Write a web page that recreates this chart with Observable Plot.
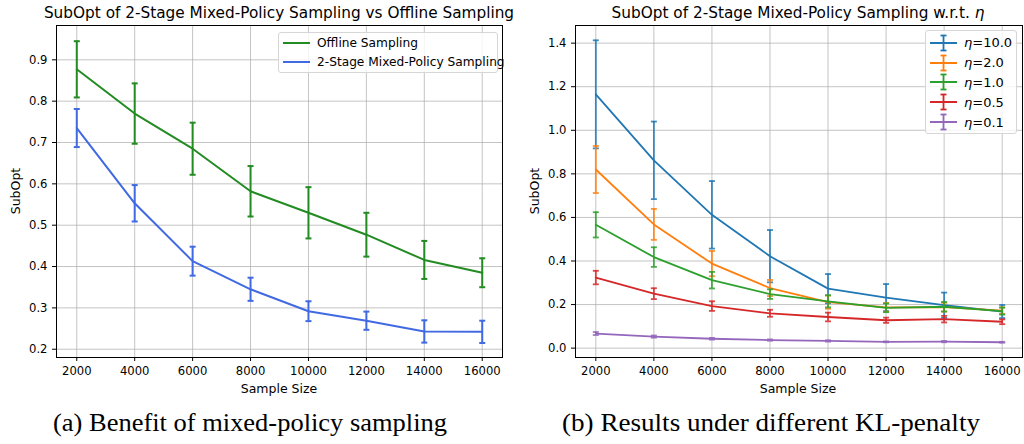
<!DOCTYPE html>
<html><head><meta charset="utf-8">
<script src="https://cdn.jsdelivr.net/npm/d3@7"></script>
<script src="https://cdn.jsdelivr.net/npm/@observablehq/plot@0.6"></script>
<style>
body{margin:0;background:#fff;}
#root{position:relative;width:1024px;height:444px;overflow:hidden;font-family:"DejaVu Sans",sans-serif;color:#000;background:#fff;}
.abs{position:absolute;white-space:nowrap;}
.title{font-size:15.3px;transform:translate(-50%,-50%);}
.xlabel{font-size:12.5px;transform:translate(-50%,-50%);}
.ylabel{font-size:12.5px;transform:translate(-50%,-50%) rotate(-90deg);}
.caption{font-family:"Liberation Serif",serif;font-size:25px;}
.legend{background:rgba(255,255,255,0.8);border:1px solid #d6d6d6;border-radius:3px;font-size:12px;box-sizing:border-box;}
.legend .row{position:absolute;left:0;display:flex;align-items:center;}
.legend svg{display:block;}
.plot{position:absolute;top:0;}
</style></head><body><div id="root"></div>
<script>
// ---------- data ----------
const sampleSizes = [2000, 4000, 6000, 8000, 10000, 12000, 14000, 16000];

const offlineMean = [0.877, 0.770, 0.685, 0.582, 0.530, 0.477, 0.416, 0.385];
const offlineErr  = [0.068, 0.073, 0.063, 0.061, 0.062, 0.053, 0.046, 0.035];
const mixedMean   = [0.735, 0.553, 0.413, 0.345, 0.292, 0.269, 0.243, 0.242];
const mixedErr    = [0.046, 0.044, 0.035, 0.028, 0.024, 0.022, 0.027, 0.027];

const etaLabels = ["10.0", "2.0", "1.0", "0.5", "0.1"];
const eta10Mean = [1.165, 0.862, 0.612, 0.422, 0.273, 0.232, 0.197, 0.168];
const eta10Err  = [0.248, 0.178, 0.155, 0.120, 0.067, 0.062, 0.058, 0.030];
const eta2Mean  = [0.820, 0.568, 0.388, 0.276, 0.211, 0.187, 0.188, 0.172];
const eta2Err   = [0.108, 0.071, 0.058, 0.037, 0.030, 0.020, 0.020, 0.015];
const eta1Mean  = [0.566, 0.418, 0.312, 0.248, 0.215, 0.185, 0.190, 0.170];
const eta1Err   = [0.058, 0.045, 0.038, 0.022, 0.028, 0.020, 0.022, 0.016];
const eta05Mean = [0.324, 0.250, 0.193, 0.160, 0.143, 0.128, 0.133, 0.121];
const eta05Err  = [0.031, 0.025, 0.022, 0.016, 0.020, 0.012, 0.015, 0.011];
const eta01Mean = [0.067, 0.053, 0.043, 0.037, 0.033, 0.029, 0.030, 0.027];
const eta01Err  = [0.007, 0.005, 0.004, 0.003, 0.003, 0.002, 0.003, 0.002];

const leftYTicks  = [0.2, 0.3, 0.4, 0.5, 0.6, 0.7, 0.8, 0.9];
const rightYTicks = [0.0, 0.2, 0.4, 0.6, 0.8, 1.0, 1.2, 1.4];

const leftSeries = [
  {name: "Offline Sampling", color: "#228b22", mean: offlineMean, err: offlineErr},
  {name: "2-Stage Mixed-Policy Sampling", color: "#4169e1", mean: mixedMean, err: mixedErr}
];
const rightSeries = [
  {name: etaLabels[0], color: "#1f77b4", mean: eta10Mean, err: eta10Err},
  {name: etaLabels[1], color: "#ff7f0e", mean: eta2Mean, err: eta2Err},
  {name: etaLabels[2], color: "#2ca02c", mean: eta1Mean, err: eta1Err},
  {name: etaLabels[3], color: "#d62728", mean: eta05Mean, err: eta05Err},
  {name: etaLabels[4], color: "#9467bd", mean: eta01Mean, err: eta01Err}
];

// ---------- helpers ----------
const capSymbol = {
  draw(ctx, size) {
    const h = Math.sqrt(size / Math.PI);
    ctx.moveTo(-h, 0); ctx.lineTo(h, 0);
  }
};

function rows(s) {
  return sampleSizes.map((x, i) => ({x, y: s.mean[i], lo: s.mean[i] - s.err[i], hi: s.mean[i] + s.err[i]}));
}

function seriesMarks(s, lineW, errW, errOpacity) {
  const d = rows(s);
  return [
    Plot.ruleX(d, {x: "x", y1: "lo", y2: "hi", stroke: s.color, strokeWidth: errW, strokeOpacity: errOpacity}),
    Plot.dot(d, {x: "x", y: "lo", symbol: capSymbol, r: 3, fill: "none", stroke: s.color, strokeWidth: errW, strokeOpacity: errOpacity}),
    Plot.dot(d, {x: "x", y: "hi", symbol: capSymbol, r: 3, fill: "none", stroke: s.color, strokeWidth: errW, strokeOpacity: errOpacity}),
    Plot.line(d, {x: "x", y: "y", stroke: s.color, strokeWidth: lineW})
  ];
}

function makePlot({width, height, mL, mR, mT, mB, yDomain, yTicks, series, lineW, errW, errOpacity}) {
  return Plot.plot({
    width, height, marginLeft: mL, marginRight: mR, marginTop: mT, marginBottom: mB,
    style: {fontFamily: "DejaVu Sans", fontSize: "11.6px", color: "#000", background: "transparent", overflow: "visible"},
    x: {domain: [1300, 16700]},
    y: {domain: yDomain},
    marks: [
      Plot.gridX(sampleSizes, {stroke: "#b0b0b0", strokeOpacity: 0.75, strokeWidth: 1}),
      Plot.gridY(yTicks, {stroke: "#b0b0b0", strokeOpacity: 0.75, strokeWidth: 1}),
      Plot.axisX(sampleSizes, {tickFormat: d3.format("d"), tickSize: 4, tickPadding: 5, label: null, fontSize: 11.6, stroke: "#000"}),
      Plot.axisY(yTicks, {tickFormat: d3.format(".1f"), tickSize: 4, tickPadding: 5, label: null, fontSize: 11.6, stroke: "#000"}),
      ...series.flatMap(s => seriesMarks(s, lineW, errW, errOpacity)),
      Plot.frame({stroke: "#000", strokeWidth: 1})
    ]
  });
}

const root = document.getElementById("root");
function addText(cls, html, x, y) {
  const el = document.createElement("div");
  el.className = "abs " + cls;
  el.innerHTML = html;
  el.style.left = x + "px";
  el.style.top = y + "px";
  root.appendChild(el);
  return el;
}
// caption stretched to the reference's text extent
function addCaption(text, x0, x1, cy) {
  const el = addText("caption", text, 0, 0);
  const w = el.getBoundingClientRect().width;
  const h = el.getBoundingClientRect().height;
  el.style.transformOrigin = "0 0";
  el.style.transform = `scaleX(${(x1 - x0) / w})`;
  el.style.left = x0 + "px";
  el.style.top = (cy - h / 2) + "px";
}

// ---------- left chart ----------
const left = makePlot({width: 512, height: 400, mL: 56, mR: 10, mT: 25, mB: 43,
  yDomain: [0.18, 0.983], yTicks: leftYTicks, series: leftSeries, lineW: 2, errW: 2, errOpacity: 1});
left.classList.add("plot");
left.style.left = "0px";
root.appendChild(left);

// ---------- right chart ----------
const right = makePlot({width: 512, height: 400, mL: 63, mR: 2, mT: 25, mB: 43,
  yDomain: [-0.043, 1.481], yTicks: rightYTicks, series: rightSeries, lineW: 1.8, errW: 1.8, errOpacity: 0.85});
right.classList.add("plot");
right.style.left = "512px";
root.appendChild(right);

// ---------- titles, labels, captions ----------
addText("title", "SubOpt of 2-Stage Mixed-Policy Sampling vs Offline Sampling", 279, 13);
addText("title", "SubOpt of 2-Stage Mixed-Policy Sampling w.r.t. <i>η</i>", 798, 13);
addText("xlabel", "Sample Size", 279, 388);
addText("xlabel", "Sample Size", 798, 388);
addText("ylabel", "SubOpt", 15, 191);
addText("ylabel", "SubOpt", 534, 191);
addCaption("(a) Benefit of mixed-policy sampling", 53, 447, 423);
addCaption("(b) Results under different KL-penalty", 562, 980, 423);

// ---------- legends ----------
function legendBox(x, y, w, h, entries, fontSize) {
  const box = document.createElement("div");
  box.className = "abs legend";
  Object.assign(box.style, {left: x + "px", top: y + "px", width: w + "px", height: h + "px", fontSize: fontSize + "px"});
  entries.forEach(e => {
    const row = document.createElement("div");
    row.className = "row";
    row.style.top = (e.cy - y - 10) + "px";
    row.style.height = "20px";
    const ns = "http://www.w3.org/2000/svg";
    const svg = document.createElementNS(ns, "svg");
    svg.setAttribute("width", 40); svg.setAttribute("height", 20);
    const mk = (tag, attrs) => { const n = document.createElementNS(ns, tag); for (const k in attrs) n.setAttribute(k, attrs[k]); svg.appendChild(n); };
    mk("line", {x1: 4, x2: 31, y1: 10, y2: 10, stroke: e.color, "stroke-width": 2});
    if (e.err) {
      mk("line", {x1: 17.5, x2: 17.5, y1: 2.5, y2: 17.5, stroke: e.color, "stroke-width": 1.8});
      mk("line", {x1: 14.5, x2: 20.5, y1: 2.5, y2: 2.5, stroke: e.color, "stroke-width": 1.8});
      mk("line", {x1: 14.5, x2: 20.5, y1: 17.5, y2: 17.5, stroke: e.color, "stroke-width": 1.8});
    }
    row.appendChild(svg);
    const t = document.createElement("span");
    t.innerHTML = e.label;
    t.style.marginLeft = e.gap + "px";
    row.appendChild(t);
    box.appendChild(row);
  });
  root.appendChild(box);
}

legendBox(278, 32, 220, 41, leftSeries.map((s, i) => ({
  label: s.name, color: s.color, cy: [42, 61][i], err: false, gap: -2
})), 12.2);

legendBox(925, 30, 92, 104, rightSeries.map((s, i) => ({
  label: "<i>η</i>=" + s.name, color: s.color, cy: [41.7, 61.5, 81.3, 101, 121][i], err: true, gap: -2
})), 13);
</script></body></html>
